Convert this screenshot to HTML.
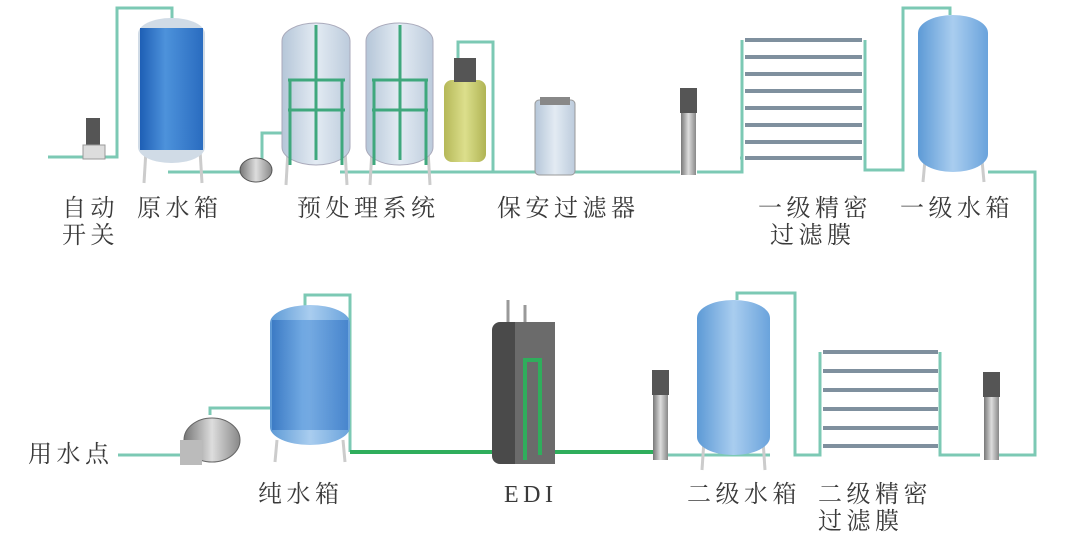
<!DOCTYPE html>
<html><head><meta charset="utf-8"><style>
html,body{margin:0;padding:0;background:#fff;width:1074px;height:538px;overflow:hidden}
text{font-family:"Liberation Serif","Noto Serif CJK SC","Noto Sans CJK SC",serif;font-size:24px;fill:#3a3a3a;letter-spacing:4.5px}
</style></head><body>
<svg width="1074" height="538" viewBox="0 0 1074 538" xmlns="http://www.w3.org/2000/svg">
<defs>
<linearGradient id="blue" x1="0" x2="1"><stop offset="0" stop-color="#1e5fb5"/><stop offset=".4" stop-color="#4d92db"/><stop offset="1" stop-color="#2a6cc0"/></linearGradient>
<linearGradient id="lblue" x1="0" x2="1"><stop offset="0" stop-color="#5d9ad6"/><stop offset=".5" stop-color="#a9cdef"/><stop offset="1" stop-color="#6aa3dc"/></linearGradient>
<linearGradient id="grey" x1="0" x2="1"><stop offset="0" stop-color="#b5c6d8"/><stop offset=".5" stop-color="#e3ebf3"/><stop offset="1" stop-color="#bccbdc"/></linearGradient>
<linearGradient id="yel" x1="0" x2="1"><stop offset="0" stop-color="#b5b858"/><stop offset=".5" stop-color="#dcdf8c"/><stop offset="1" stop-color="#b0b454"/></linearGradient>
<linearGradient id="pump" x1="0" x2="1"><stop offset="0" stop-color="#777"/><stop offset=".5" stop-color="#ddd"/><stop offset="1" stop-color="#888"/></linearGradient>
</defs>
<g fill="none" stroke="#7cc9b4" stroke-width="3">
<path d="M48 157 H117 V8 H172 V18"/>
<path d="M168 172 H245 M262 160 V133 H290"/>
<path d="M340 172 H680 M697 172 H742 V40 M742 158 H740"/>
<path d="M458 60 V42 H493 V172"/>
<path d="M865 40 V170 H903 V8 H950 V15"/>
<path d="M988 172 H1035 V455 H995"/>
<path d="M980 455 H940 V352 M820 352 V455 H795 V293 H737 V300"/>
<path d="M770 455 H668"/>
<path d="M118 455 H180 M210 415 V408 H305 V295 H350 V452"/>
</g>
<path d="M350 452 H660" stroke="#2fae5c" stroke-width="4" fill="none"/>
<rect x="86" y="118" width="14" height="30" fill="#555"/><rect x="83" y="145" width="22" height="14" fill="#ddd" stroke="#999"/>
<g stroke="#ccc" stroke-width="3"><line x1="146" y1="150" x2="144" y2="183"/><line x1="200" y1="150" x2="202" y2="183"/></g>
<rect x="138" y="18" width="67" height="145" rx="33" ry="16" fill="#d0dbe6"/>
<rect x="140" y="28" width="63" height="122" fill="url(#blue)"/>
<ellipse cx="256" cy="170" rx="16" ry="12" fill="url(#pump)" stroke="#555"/>
<g stroke="#ccc" stroke-width="3"><line x1="288" y1="150" x2="286" y2="185"/><line x1="345" y1="150" x2="347" y2="185"/><line x1="372" y1="150" x2="370" y2="185"/><line x1="428" y1="150" x2="430" y2="185"/></g>
<rect x="282" y="23" width="68" height="142" rx="34" ry="18" fill="url(#grey)" stroke="#aab"/>
<rect x="366" y="23" width="67" height="142" rx="33" ry="18" fill="url(#grey)" stroke="#aab"/>
<g fill="none" stroke="#3fa87d" stroke-width="3">
<path d="M316 25 V160 M288 80 H345 M288 110 H345 M290 80 V165 M342 80 V165"/>
<path d="M400 25 V160 M372 80 H428 M372 110 H428 M374 80 V165 M426 80 V165"/>
</g>
<rect x="444" y="80" width="42" height="82" rx="8" fill="url(#yel)"/>
<rect x="454" y="58" width="22" height="24" fill="#555"/>
<rect x="535" y="100" width="40" height="75" rx="4" fill="url(#grey)" stroke="#999"/>
<rect x="540" y="97" width="30" height="8" fill="#888"/>
<g>
<rect x="680" y="88" width="17" height="25" fill="#555"/><rect x="681" y="113" width="15" height="62" fill="url(#pump)"/>
<rect x="652" y="370" width="17" height="25" fill="#555"/><rect x="653" y="395" width="15" height="65" fill="url(#pump)"/>
<rect x="983" y="372" width="17" height="25" fill="#555"/><rect x="984" y="397" width="15" height="63" fill="url(#pump)"/>
</g>
<g stroke="#7f909e" stroke-width="4">
<line x1="745" y1="40" x2="862" y2="40"/><line x1="745" y1="57" x2="862" y2="57"/><line x1="745" y1="74" x2="862" y2="74"/><line x1="745" y1="91" x2="862" y2="91"/><line x1="745" y1="108" x2="862" y2="108"/><line x1="745" y1="125" x2="862" y2="125"/><line x1="745" y1="142" x2="862" y2="142"/><line x1="745" y1="158" x2="862" y2="158"/>
</g>
<g stroke="#ccc" stroke-width="3"><line x1="925" y1="160" x2="923" y2="182"/><line x1="982" y1="160" x2="984" y2="182"/></g>
<rect x="918" y="15" width="70" height="157" rx="35" ry="18" fill="url(#lblue)"/>
<g stroke="#7f909e" stroke-width="4">
<line x1="823" y1="352" x2="938" y2="352"/><line x1="823" y1="371" x2="938" y2="371"/><line x1="823" y1="390" x2="938" y2="390"/><line x1="823" y1="409" x2="938" y2="409"/><line x1="823" y1="428" x2="938" y2="428"/><line x1="823" y1="446" x2="938" y2="446"/>
</g>
<g stroke="#ccc" stroke-width="3"><line x1="704" y1="440" x2="702" y2="470"/><line x1="763" y1="440" x2="765" y2="470"/></g>
<rect x="697" y="300" width="73" height="155" rx="36" ry="18" fill="url(#lblue)"/>
<rect x="492" y="322" width="63" height="142" rx="8" fill="#4a4a4a"/>
<rect x="515" y="322" width="40" height="142" fill="#6b6b6b"/>
<path d="M525 460 V360 H540 V455" stroke="#2fae5c" stroke-width="4" fill="none"/>
<line x1="508" y1="300" x2="508" y2="322" stroke="#999" stroke-width="3"/><line x1="525" y1="305" x2="525" y2="322" stroke="#999" stroke-width="3"/>
<g stroke="#ccc" stroke-width="3"><line x1="277" y1="440" x2="275" y2="462"/><line x1="343" y1="440" x2="345" y2="462"/></g>
<rect x="270" y="305" width="80" height="140" rx="40" ry="18" fill="url(#lblue)"/>
<rect x="272" y="320" width="76" height="110" fill="url(#blue)" opacity=".55"/>
<ellipse cx="212" cy="440" rx="28" ry="22" fill="url(#pump)" stroke="#666"/>
<rect x="180" y="440" width="22" height="25" fill="#bbb"/>
<text x="62" y="216">自动</text><text x="62" y="243">开关</text>
<text x="137" y="216">原水箱</text>
<text x="297" y="216">预处理系统</text>
<text x="497" y="216">保安过滤器</text>
<text x="758" y="216">一级精密</text><text x="770" y="243">过滤膜</text>
<text x="900" y="216">一级水箱</text>
<text x="28" y="462">用水点</text>
<text x="258" y="502">纯水箱</text>
<text x="504" y="502">EDI</text>
<text x="687" y="502">二级水箱</text>
<text x="818" y="502">二级精密</text><text x="818" y="529">过滤膜</text>
</svg>
</body></html>
